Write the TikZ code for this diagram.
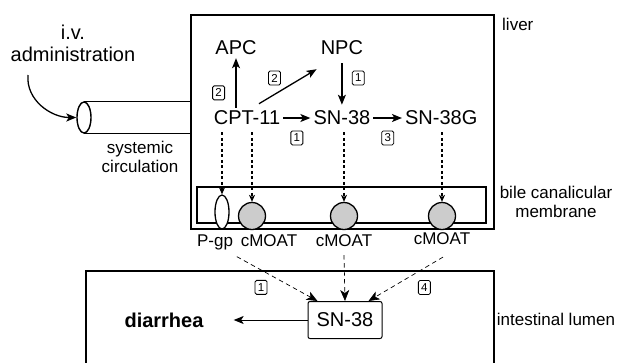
\documentclass[tikz,border=0pt]{standalone}
\usepackage{fontspec}
\setmainfont{Liberation Sans}
\usetikzlibrary{arrows.meta,positioning,shapes,calc}
\tikzset{
    %Define style for drug names
    drugnode/.style={
             font=\fontsize{20}{22}\selectfont,
             inner sep=3pt},
    %Define style for side labels
    sidenode/.style={
             font=\fontsize{17}{19}\selectfont,
             inner sep=0pt},
    %Define style for pathway numbers
    stepnode/.style={
             draw, solid, rounded corners=1.5pt, line width=0.8pt,
             font=\fontsize{11.5}{12}\selectfont,
             inner sep=0pt, minimum width=12pt, minimum height=14pt},
    %Define style for transporters
    pumpnode/.style={
             circle, draw, fill=gray!40, line width=1.3pt,
             minimum size=27pt, inner sep=0pt},
    organ/.style={
             draw, line width=1.8pt},
    % Define arrow styles
    convarrow/.style={
            -{Stealth[length=10pt,width=8pt,inset=2.5pt]},
            line width=1.3pt},
    pumparrow/.style={
            -{Stealth[length=7pt,width=6pt,inset=2pt]},
            line width=1.1pt,
            dash pattern=on 3pt off 2.5pt,
            shorten <=4pt},
    bilearrow/.style={
            -{Stealth[length=11pt,width=9pt,inset=3pt]},
            line width=0.7pt,
            dash pattern=on 4.5pt off 3.5pt}
}

\begin{document}
\begin{tikzpicture}[x=1pt, y=-1pt]
 \useasboundingbox (0,0) rectangle (621,362);
 % organs
 \node[organ, minimum width=303pt, minimum height=214pt] (liver) at (342.5,122) {};
 \node[organ, line width=1.5pt, minimum width=289pt, minimum height=36pt] (membrane) at (341.5,205) {};
 \draw[organ, line width=1.5pt] (86,366) |- (494,271) -- (494,366);
 \node[sidenode, anchor=west] (liverlbl) at (502,24) {liver};
 \node[sidenode, align=center] (bilelbl) at (556,202) {bile canalicular\\membrane};
 \node[sidenode] (lumenlbl) at (556,319) {intestinal lumen};

 % administration
 \node[drugnode, align=center] (iv) at (73,43) {i.v.\\administration};
 \node[ellipse, draw, line width=1.4pt, minimum width=14pt, minimum height=31pt, inner sep=0pt] (inlet) at (84,117.5) {};
 \draw[line width=1.4pt] (inlet.north) -- (inlet.north -| liver.west)
                         (inlet.south) -- (inlet.south -| liver.west);
 \coordinate (ivstart) at (28,75);
 \draw[convarrow] (ivstart) to[out=-95, in=180] (inlet.west);
 \node[sidenode, align=center] (circlbl) at (140,157) {systemic\\circulation};

 % metabolism in the liver
 \node[drugnode] (cpt) at (247,118) {CPT-11};
 \node[drugnode, right=27pt of cpt] (sn) {SN-38};
 \node[drugnode, right=28.5pt of sn] (sng) {SN-38G};
 \node[drugnode, above=49.5pt of sn] (npc) {NPC};
 \node[drugnode, above=49.5pt of cpt, xshift=-11pt] (apc) {APC};
 \draw[convarrow] (apc.south |- cpt.north) -- (apc.south)
       node[stepnode, pos=0.3, left=11pt] {2};
 \draw[convarrow] ([xshift=12pt,yshift=4pt]cpt.north) -- ([xshift=-1pt,yshift=-11pt]npc.south west)
       node[stepnode, pos=0.27, above=9pt] {2};
 \draw[convarrow, shorten <=5pt, shorten >=3pt] (npc) -- (sn)
       node[stepnode, pos=0.4, right=10pt] {1};
 \draw[convarrow] (cpt) -- (sn) node[stepnode, midway, below=12.5pt] {1};
 \draw[convarrow] (sn) -- (sng) node[stepnode, midway, below=12.5pt] {3};

 % transport into bile
 \node[ellipse, draw, fill=white, line width=1.3pt, minimum width=14pt, minimum height=34pt, inner sep=0pt] (pgp) at (222,212) {};
 \node[pumpnode] (moatA) at (252,216) {};
 \node[pumpnode] (moatB) at (344,216) {};
 \node[pumpnode] (moatC) at (442,216) {};
 \draw[pumparrow] (pgp.north |- cpt.south) -- (pgp.north);
 \draw[pumparrow] (moatA.north |- cpt.south) -- (moatA.north);
 \draw[pumparrow] (moatB.north |- sn.south) -- (moatB.north);
 \draw[pumparrow] (moatC.north |- sng.south) -- (moatC.north);
 \node[sidenode, below=5pt of pgp, xshift=-7pt] (pgplbl) {P-gp};
 \node[sidenode, below=4.5pt of moatA, xshift=17pt] (moatAlbl) {cMOAT};
 \node[sidenode, below=4.5pt of moatB] (moatBlbl) {cMOAT};
 \node[sidenode, below=2.5pt of moatC] (moatClbl) {cMOAT};

 % intestinal lumen
 \node[drugnode, draw, rounded corners=2pt, line width=1pt, minimum width=74pt, minimum height=37pt] (snlumen) at (345,320) {SN-38};
 \node[drugnode, font=\fontsize{20}{22}\selectfont\bfseries] (diarrhea) at (164,320) {diarrhea};
 \draw[convarrow, line width=1pt, shorten >=27pt] (snlumen) -- (diarrhea);
 \coordinate (pgpout) at ($(pgplbl.south east)!0.5!(moatAlbl.south west)+(0,8)$);
 \draw[bilearrow] (pgpout) -- ([xshift=10pt]snlumen.north west)
       node[stepnode, pos=0.3, below=10pt] {1};
 \draw[bilearrow] ([yshift=-8pt]moatBlbl.south) -- (snlumen.north);
 \draw[bilearrow] ([xshift=1pt,yshift=-12pt]moatClbl.south) -- ([xshift=-14pt]snlumen.north east)
       node[stepnode, pos=0.25, below=12pt] {4};
\end{tikzpicture}
\end{document}
